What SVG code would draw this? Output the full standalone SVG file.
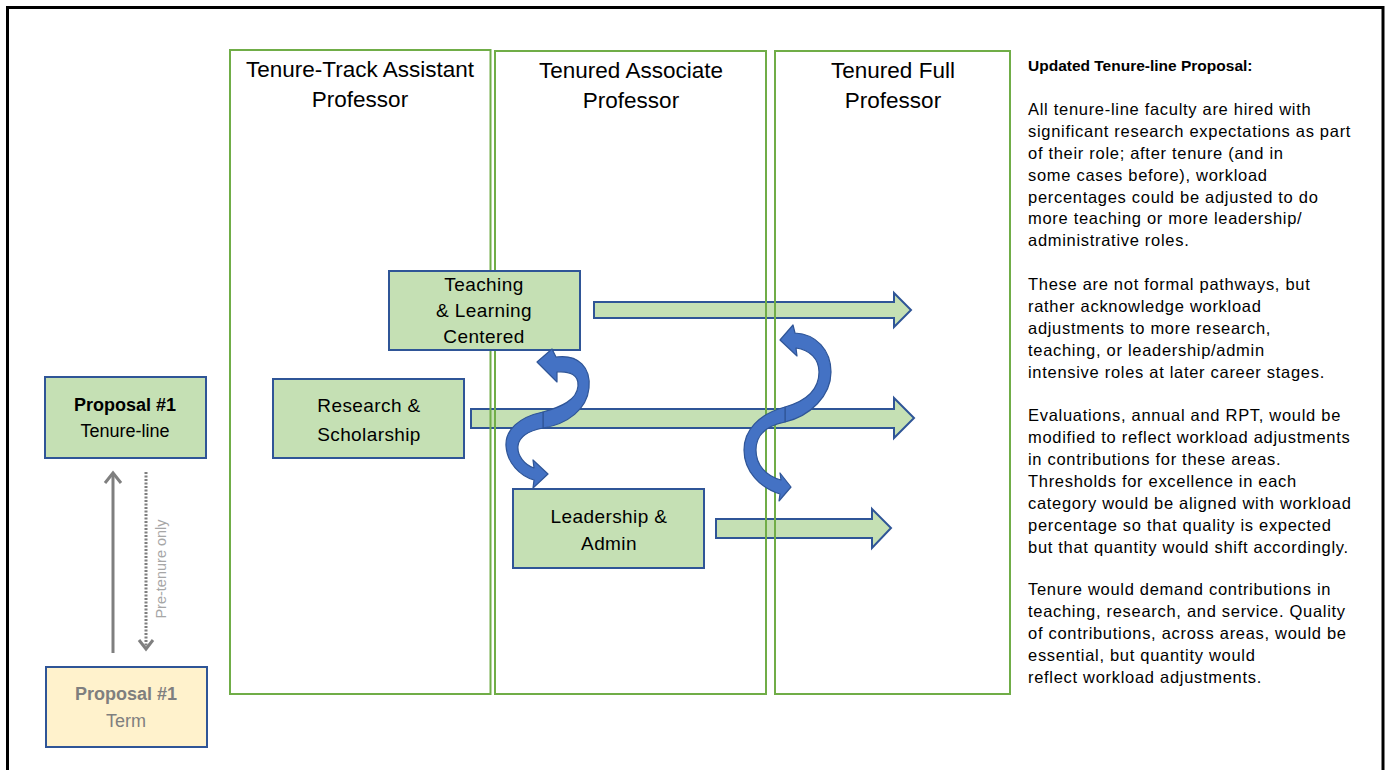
<svg xmlns="http://www.w3.org/2000/svg" width="1387" height="770" viewBox="0 0 1387 770">
<style>
  .col { fill: none; stroke: #70AD47; stroke-width: 2; }
  .box { fill: #C5E0B4; stroke: #2F5597; stroke-width: 2; }
  .term { fill: #FFF2CC; stroke: #2F5597; stroke-width: 2; }
  .barrow { fill: #C5E0B4; stroke: #2F5597; stroke-width: 2; stroke-linejoin: miter; }
  .carrow { fill: #4472C4; stroke: #2F5597; stroke-width: 1.2; stroke-linejoin: round; }
  .hdr { font-family: "Liberation Sans", Arial, sans-serif; font-size: 22.5px; fill: #000; text-anchor: middle; }
  .lbl { font-family: "Liberation Sans", Arial, sans-serif; font-size: 19px; letter-spacing: 0.4px; fill: #000; text-anchor: middle; }
  .prop { font-family: "Liberation Sans", Arial, sans-serif; font-size: 18px; text-anchor: middle; }
  .side { font-family: "Liberation Sans", Arial, sans-serif; font-size: 16.5px; letter-spacing: 0.7px; fill: #000; }
  .sidet { font-family: "Liberation Sans", Arial, sans-serif; font-size: 15.5px; font-weight: bold; fill: #000; }
</style>

<rect x="7.5" y="7.5" width="1375.5" height="800" fill="none" stroke="#000" stroke-width="3"/>

<g id="connectors">
  <polygon class="barrow" points="594,302 894,302 894,293 911,310 894,327 894,318 594,318"/>
  <polygon class="barrow" points="471,409 894,409 894,398 914,418 894,438 894,428 471,428"/>
  <polygon class="barrow" points="716,519 872,519 872,509 891,528 872,548 872,538 716,538"/>
</g>

<g id="col-assistant">
  <rect class="col" x="230" y="50" width="260.5" height="644"/>
  <text class="hdr" x="360" y="77">Tenure-Track Assistant</text>
  <text class="hdr" x="360" y="107">Professor</text>
</g>
<g id="col-associate">
  <rect class="col" x="495" y="51" width="271" height="643"/>
  <text class="hdr" x="631" y="78">Tenured Associate</text>
  <text class="hdr" x="631" y="108">Professor</text>
</g>
<g id="col-full">
  <rect class="col" x="775" y="51" width="235" height="643"/>
  <text class="hdr" x="893" y="78">Tenured Full</text>
  <text class="hdr" x="893" y="108">Professor</text>
</g>

<g id="teaching">
  <rect class="box" x="389" y="271" width="191" height="79"/>
  <text class="lbl" x="484" y="291">Teaching</text>
  <text class="lbl" x="484" y="317">&amp; Learning</text>
  <text class="lbl" x="484" y="343">Centered</text>
</g>
<g id="research">
  <rect class="box" x="273" y="379" width="191" height="79"/>
  <text class="lbl" x="369" y="412">Research &amp;</text>
  <text class="lbl" x="369" y="441">Scholarship</text>
</g>
<g id="leadership">
  <rect class="box" x="513" y="489" width="191" height="79"/>
  <text class="lbl" x="609" y="523">Leadership &amp;</text>
  <text class="lbl" x="609" y="550">Admin</text>
</g>

<g id="curved-arrows">
  <path class="carrow" d="M543,412 C561,407 577,400 578,386 C579,375 570,371 557,372 L557,382 L537,362 L552,349 L556,357 C579,354 591,368 589,388 C587,409 568,424 543,428 Z"/>
  <path class="carrow" d="M543,412 C519,417 505,430 506,446 C507,463 520,476 534,480 L533,488 L548,474 L533,460 L534,468 C525,465 517,456 518,446 C519,437 528,431 543,428 Z"/>
  <path class="carrow" d="M785,407 C806,401 819,390 819,372 C819,359 810,350 796,348 L797,356 L780,340 L793,325 L795,333 C816,334 831,350 831,372 C831,396 810,416 785,422 Z"/>
  <path class="carrow" d="M785,407 C759,414 744,430 744,450 C744,471 760,488 780,494 L779,501 L791,487 L780,473 L781,480 C766,476 756,465 756,450 C756,436 765,426 785,422 Z"/>
</g>

<g id="proposal-tenure">
  <rect class="box" x="45" y="377" width="161" height="81"/>
  <text class="prop" x="125" y="411" font-weight="bold" fill="#000">Proposal #1</text>
  <text class="prop" x="125" y="437" fill="#000">Tenure-line</text>
</g>
<g id="proposal-term">
  <rect class="term" x="46" y="667" width="161" height="80"/>
  <text class="prop" x="126" y="700" font-weight="bold" fill="#7F7F7F">Proposal #1</text>
  <text class="prop" x="126" y="727" fill="#7F7F7F">Term</text>
</g>

<g id="side-connectors">
  <line x1="113" y1="653" x2="113" y2="474" stroke="#7F7F7F" stroke-width="3"/>
  <polyline points="105,483 113,473 121,483" fill="none" stroke="#7F7F7F" stroke-width="3"/>
  <line x1="146" y1="472" x2="146" y2="648" stroke="#7F7F7F" stroke-width="3" stroke-dasharray="2 1.5"/>
  <polyline points="139,640 146,649 153,640" fill="none" stroke="#7F7F7F" stroke-width="3"/>
  <text transform="translate(166,569) rotate(-90)" font-family="Liberation Sans, Arial, sans-serif" font-size="14.5" fill="#A6A6A6" text-anchor="middle">Pre-tenure only</text>
</g>

<g id="notes">
  <text class="sidet" x="1028" y="71">Updated Tenure-line Proposal:</text>
  <text class="side" x="1028" y="115">All tenure-line faculty are hired with</text>
  <text class="side" x="1028" y="137">significant research expectations as part</text>
  <text class="side" x="1028" y="159">of their role; after tenure (and in</text>
  <text class="side" x="1028" y="181">some cases before), workload</text>
  <text class="side" x="1028" y="203">percentages could be adjusted to do</text>
  <text class="side" x="1028" y="224">more teaching or more leadership/</text>
  <text class="side" x="1028" y="246">administrative roles.</text>
  <text class="side" x="1028" y="290">These are not formal pathways, but</text>
  <text class="side" x="1028" y="312">rather acknowledge workload</text>
  <text class="side" x="1028" y="334">adjustments to more research,</text>
  <text class="side" x="1028" y="356">teaching, or leadership/admin</text>
  <text class="side" x="1028" y="378">intensive roles at later career stages.</text>
  <text class="side" x="1028" y="421">Evaluations, annual and RPT, would be</text>
  <text class="side" x="1028" y="443">modified to reflect workload adjustments</text>
  <text class="side" x="1028" y="465">in contributions for these areas.</text>
  <text class="side" x="1028" y="487">Thresholds for excellence in each</text>
  <text class="side" x="1028" y="509">category would be aligned with workload</text>
  <text class="side" x="1028" y="531">percentage so that quality is expected</text>
  <text class="side" x="1028" y="553">but that quantity would shift accordingly.</text>
  <text class="side" x="1028" y="595">Tenure would demand contributions in</text>
  <text class="side" x="1028" y="617">teaching, research, and service. Quality</text>
  <text class="side" x="1028" y="639">of contributions, across areas, would be</text>
  <text class="side" x="1028" y="661">essential, but quantity would</text>
  <text class="side" x="1028" y="683">reflect workload adjustments.</text>
</g>
</svg>
